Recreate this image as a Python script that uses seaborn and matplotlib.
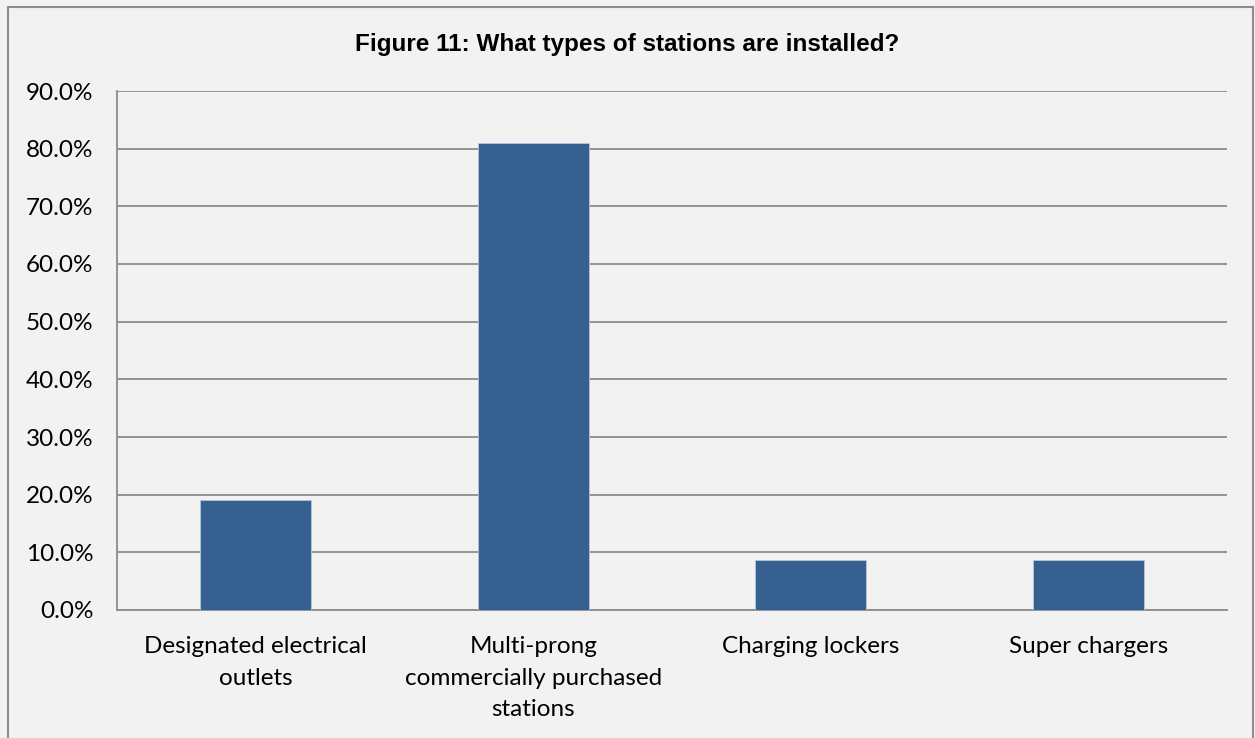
import matplotlib.pyplot as plt
import seaborn as sns
import pandas as pd
from matplotlib.patches import Rectangle
from matplotlib.ticker import PercentFormatter

# survey shares
station_types = ['Designated electrical\noutlets',
                 'Multi-prong\ncommercially purchased\nstations',
                 'Charging lockers',
                 'Super chargers']
share_pct = [19.0, 81.0, 8.6, 8.6]

df = pd.DataFrame({'station': station_types, 'share': share_pct})

sns.set_theme(style='white')
plt.rcParams['font.family'] = ['Lato', 'DejaVu Sans']

bg = '#f2f2f2'
fig = plt.figure(figsize=(12.55, 7.38), dpi=100, facecolor=bg)
ax = fig.add_axes([117 / 1255, 1 - 610 / 738, 1110 / 1255, 519 / 738])
ax.set_facecolor(bg)

sns.barplot(data=df, x='station', y='share', color='#366092', width=0.4,
            saturation=1, edgecolor='#b9c7da', linewidth=0.6, ax=ax, zorder=3)

ax.set_xlim(-0.5, 3.5)
ax.set_ylim(0, 90)
ax.set_yticks(range(0, 91, 10))
ax.yaxis.set_major_formatter(PercentFormatter(decimals=1))
ax.grid(axis='y', color='#8c8c8c', linewidth=1.3, zorder=0)
ax.set_axisbelow(True)

for side in ['top', 'right']:
    ax.spines[side].set_visible(False)
for side in ['left', 'bottom']:
    ax.spines[side].set_color('#8c8c8c')
    ax.spines[side].set_linewidth(1.3)

ax.tick_params(axis='both', length=0, labelsize=17.5, colors='black')
ax.tick_params(axis='y', pad=17)
ax.tick_params(axis='x', pad=19)
for lbl in ax.get_xticklabels():
    lbl.set_linespacing(1.62)
ax.set_xlabel('')
ax.set_ylabel('')

fig.text(0.5, 1 - 45 / 738, 'Figure 11: What types of stations are installed?',
         ha='center', va='center', fontsize=17.5, fontweight='bold',
         color='black', family=['Liberation Sans', 'DejaVu Sans'])

# chart area border
fig.patches.append(Rectangle((8 / 1255, -0.05), 1245 / 1255, 1.05 - 7 / 738,
                             transform=fig.transFigure, fill=False,
                             edgecolor='#8c8c8c', linewidth=1.5))

fig.savefig('out.png', dpi=100, facecolor=bg)
